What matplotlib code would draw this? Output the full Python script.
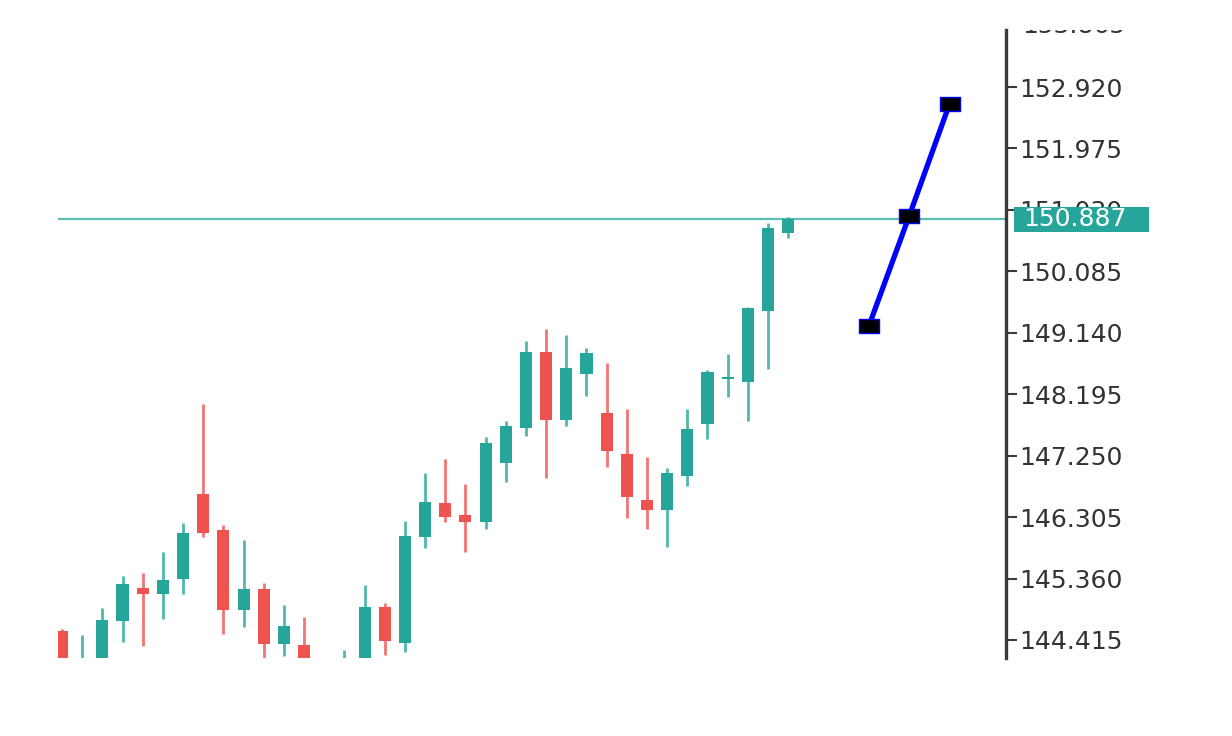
"""
Candlestick chart with a forecast line and last price label
"""
####################################################################################################################
# Libs
import matplotlib.pyplot as plt
import matplotlib.transforms as mtransforms
from matplotlib.patches import Rectangle
import numpy as np

####################################################################################################################
# Data
opens = [144.553, 143.85, 143.95, 144.707, 145.215, 145.122, 145.353, 146.660, 146.107, 144.876,
         145.199, 144.353, 144.338, 143.70, 143.90, 144.00, 144.922, 144.369, 145.999, 146.522,
         146.337, 146.230, 147.137, 147.675, 148.844, 147.799, 148.506, 147.906, 147.276, 146.568,
         146.414, 146.937, 147.737, 148.429, 148.383, 149.475, 150.675]
highs = [144.58, 144.492, 144.907, 145.399, 145.445, 145.768, 146.214, 148.045, 146.184, 145.953,
         145.292, 144.953, 144.769, 144.05, 144.261, 145.261, 144.984, 146.245, 146.983, 147.199,
         146.814, 147.537, 147.783, 149.015, 149.198, 149.106, 148.906, 148.675, 147.968, 147.229,
         147.060, 147.968, 148.567, 148.814, 149.536, 150.828, 150.920]
lows = [143.80, 143.75, 143.85, 144.384, 144.323, 144.738, 145.122, 145.999, 144.507, 144.615,
        143.90, 144.169, 143.70, 143.60, 143.80, 143.90, 144.184, 144.230, 145.830, 146.230,
        145.768, 146.122, 146.845, 147.552, 146.906, 147.706, 148.168, 147.076, 146.291, 146.122,
        145.845, 146.783, 147.506, 148.152, 147.783, 148.583, 150.598]
closes = [143.95, 144.05, 144.723, 145.276, 145.122, 145.338, 146.061, 146.061, 144.876, 145.199,
          144.353, 144.630, 143.90, 143.95, 144.10, 144.922, 144.400, 146.014, 146.537, 146.307,
          146.230, 147.445, 147.706, 148.844, 147.799, 148.598, 148.829, 147.322, 146.614, 146.414,
          146.983, 147.660, 148.537, 148.460, 149.521, 150.751, 150.887]

# forecast line (bar index, price)
fc_x = [40, 42, 44]
fc_y = [149.244, 150.936, 152.659]

last_price = 150.887
price_ticks = [144.415, 145.360, 146.305, 147.250, 148.195, 149.140, 150.085, 151.030, 151.975, 152.920]
top_tick = 153.865

####################################################################################################################
# Plot
up_col = '#26a69a'
down_col = '#ef5350'
fs = 18

fig = plt.figure(figsize=(12.32, 7.36), dpi=100)
ax = fig.add_axes([58 / 1232, 78 / 736, 948 / 1232, 628 / 736])

x = np.arange(len(opens))
o = np.array(opens)
c = np.array(closes)
cols = [up_col if cc >= oo else down_col for oo, cc in zip(o, c)]

# wicks
ax.vlines(x, lows, highs, colors=cols, linewidth=2.0, alpha=0.8, zorder=2)
# bodies (min height so dojis still show)
body_bottom = np.minimum(o, c)
body_h = np.maximum(np.abs(c - o), 0.035)
ax.bar(x, body_h, bottom=body_bottom, width=0.6, color=cols, zorder=3)

# last price line
ax.axhline(last_price, color='#5cbfb5', linewidth=1.6, zorder=1)

# forecast line with square markers
sq = [(-1, -0.72), (1, -0.72), (1, 0.72), (-1, 0.72), (-1, -0.72)]
ax.plot(fc_x, fc_y, color='#0000ff', linewidth=3.8, zorder=4)
ax.plot(fc_x, fc_y, linestyle='none', marker=sq, markersize=15, markerfacecolor='black',
        markeredgecolor='#0000ff', markeredgewidth=1.0, zorder=5)

ax.set_xlim(-0.2, 46.8)
ax.set_ylim(144.138, 153.797)

# axis look: only the right price scale
for s in ['left', 'top', 'bottom']:
    ax.spines[s].set_visible(False)
ax.spines['right'].set_color('#3a3a3a')
ax.spines['right'].set_linewidth(2.4)
ax.set_xticks([])
ax.yaxis.tick_right()
ax.set_yticks(price_ticks)
ax.set_yticklabels([f'{v:.3f}' for v in price_ticks])
ax.tick_params(axis='y', direction='out', length=8, width=1.5, color='#3a3a3a',
               labelsize=fs, labelcolor='#333333', pad=1.5)

# top label cut off by the chart edge
blend = mtransforms.blended_transform_factory(ax.transAxes, ax.transData)
t = ax.text(1.0 + 16 / 948, top_tick, f'{top_tick:.3f}', transform=blend, fontsize=fs,
            color='#333333', va='center', ha='left', clip_on=True)
t.set_clip_box(mtransforms.TransformedBbox(mtransforms.Bbox([[0, 0], [1, 1 - 30 / 736]]), fig.transFigure))

# last price label box
box_h = 25 / 65.02
ax.add_patch(Rectangle((1.0 + 8 / 948, last_price - box_h / 2), 135 / 948, box_h, transform=blend,
                       facecolor=up_col, edgecolor='none', clip_on=False, zorder=10))
ax.text(1.0 + 17 / 948, last_price, f'{last_price:.3f}', transform=blend, fontsize=fs,
        color='white', va='center', ha='left', clip_on=False, zorder=11)

plt.savefig('out.png', dpi=100)
